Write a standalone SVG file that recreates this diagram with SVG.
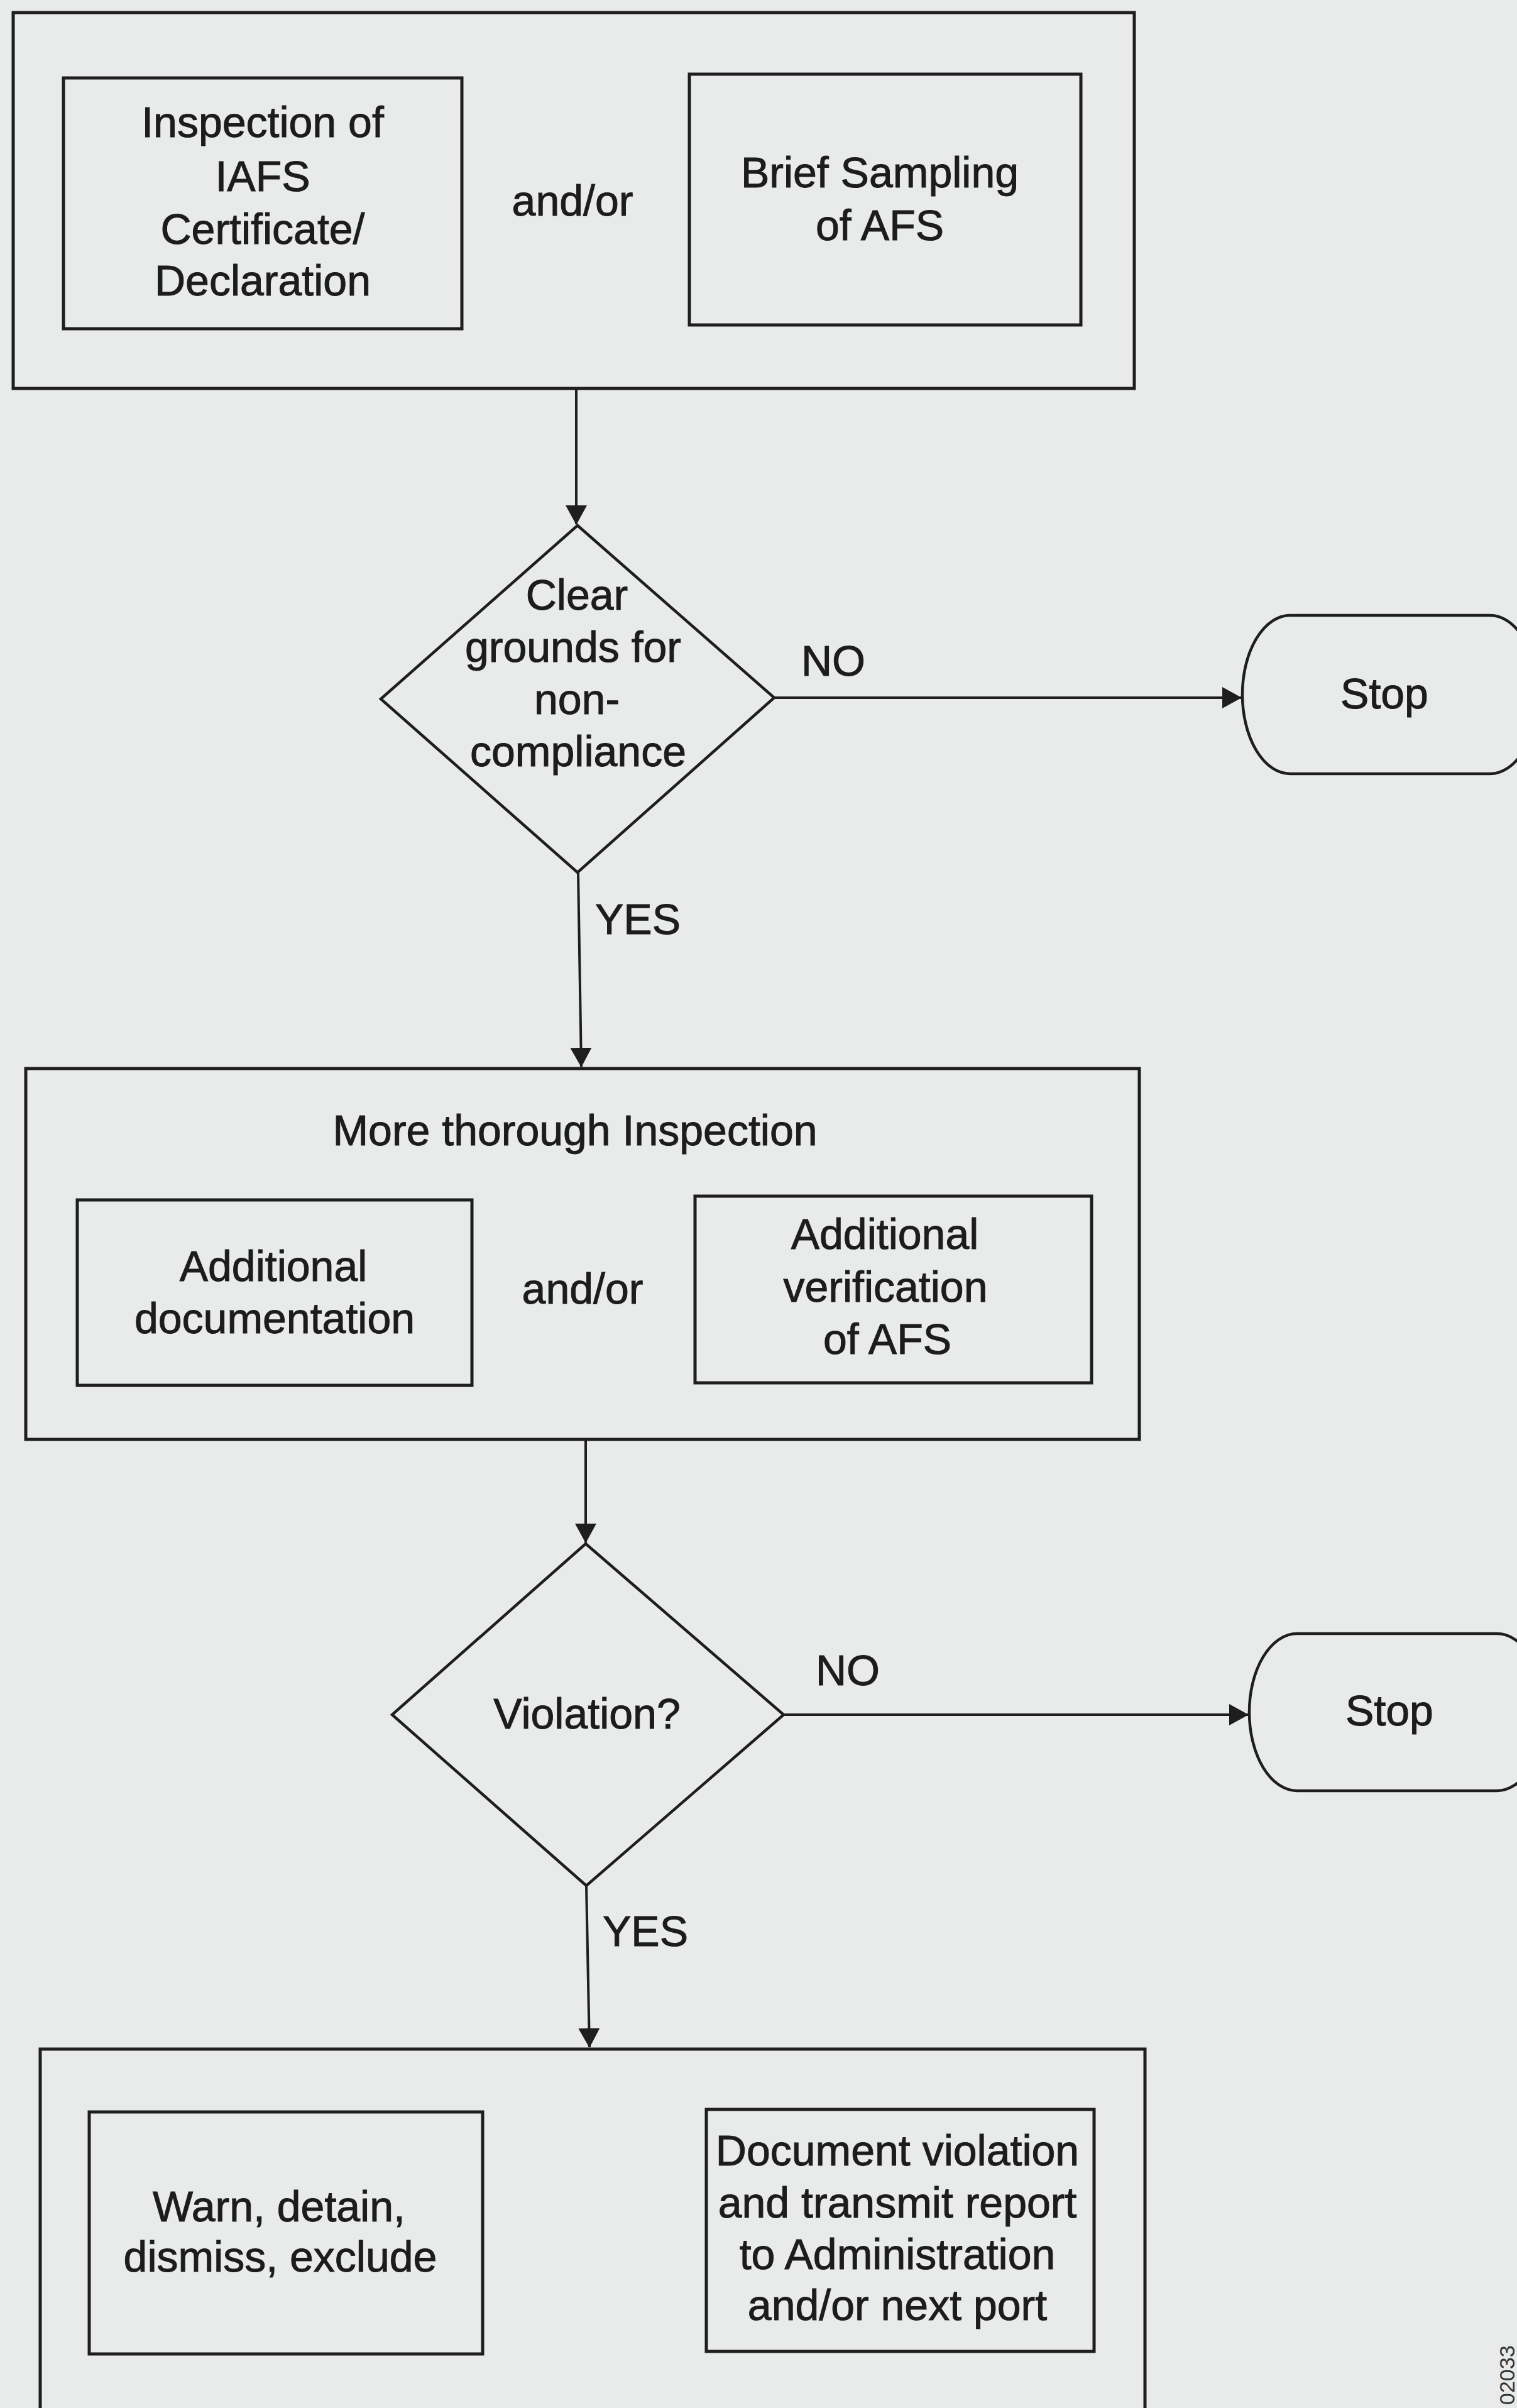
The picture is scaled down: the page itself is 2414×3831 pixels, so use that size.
<svg xmlns="http://www.w3.org/2000/svg" width="2414" height="3831" viewBox="0 0 2414 3831">
<style>
.bg{fill:#e9ebea}
.box{fill:none;stroke:#1e1e1e;stroke-width:5}
.dia{fill:none;stroke:#1e1e1e;stroke-width:4.5}
.term{fill:none;stroke:#1e1e1e;stroke-width:4.5}
.con{fill:none;stroke:#1e1e1e;stroke-width:4}
text{font-family:"Liberation Sans",Arial,sans-serif;font-size:68px;fill:#1c1c1c;stroke:#1c1c1c;stroke-width:1;text-anchor:middle}
.lbl{text-anchor:start}
.tag{font-size:34px;text-anchor:start;fill:#333;stroke:none}
</style>
<defs>
<marker id="arrow" markerUnits="userSpaceOnUse" markerWidth="32" markerHeight="34" refX="30" refY="17" orient="auto">
<path d="M0,0 L31,17 L0,34 Z" fill="#1e1e1e"/>
</marker>
</defs>
<rect class="bg" x="0" y="0" width="2414" height="3831"/>

<g id="connectors">
<line class="con" x1="917" y1="620" x2="917" y2="834" marker-end="url(#arrow)"/>
<line class="con" x1="1232" y1="1110" x2="1975" y2="1110" marker-end="url(#arrow)"/>
<line class="con" x1="920" y1="1388" x2="925" y2="1697" marker-end="url(#arrow)"/>
<line class="con" x1="932" y1="2292" x2="932" y2="2454" marker-end="url(#arrow)"/>
<line class="con" x1="1247" y1="2728" x2="1986" y2="2728" marker-end="url(#arrow)"/>
<line class="con" x1="933" y1="3000" x2="938" y2="3257" marker-end="url(#arrow)"/>
</g>

<g id="initial-check">
<rect class="box" x="21" y="20" width="1784" height="598"/>
</g>
<g id="inspection-certificate">
<rect class="box" x="101" y="124" width="634" height="399"/>
<text x="418" y="218">Inspection of</text>
<text x="418" y="304">IAFS</text>
<text x="418" y="388">Certificate/</text>
<text x="418" y="470">Declaration</text>
</g>
<g id="andor-1">
<text x="911" y="343">and/or</text>
</g>
<g id="brief-sampling">
<rect class="box" x="1097" y="118" width="623" height="399"/>
<text x="1400" y="298">Brief Sampling</text>
<text x="1400" y="382">of AFS</text>
</g>

<g id="clear-grounds">
<polygon class="dia" points="919,836 1232,1110 919,1388 606,1112"/>
<text x="918" y="970">Clear</text>
<text x="912" y="1053">grounds for</text>
<text x="918" y="1136">non-</text>
<text x="920" y="1219">compliance</text>
</g>
<g id="label-no-1"><text class="lbl" x="1275" y="1075">NO</text></g>
<g id="stop-1">
<rect class="term" x="1977" y="979" width="470" height="252" rx="76" ry="126"/>
<text x="2203" y="1127">Stop</text>
</g>
<g id="label-yes-1"><text class="lbl" x="947" y="1486">YES</text></g>

<g id="thorough-inspection">
<rect class="box" x="41" y="1700" width="1772" height="590"/>
<text x="915" y="1822">More thorough Inspection</text>
</g>
<g id="additional-documentation">
<rect class="box" x="123" y="1909" width="628" height="295"/>
<text x="435" y="2038">Additional</text>
<text x="437" y="2121">documentation</text>
</g>
<g id="andor-2">
<text x="927" y="2074">and/or</text>
</g>
<g id="additional-verification">
<rect class="box" x="1106" y="1903" width="631" height="297"/>
<text x="1408" y="1987">Additional</text>
<text x="1409" y="2071">verification</text>
<text x="1412" y="2154">of AFS</text>
</g>

<g id="violation">
<polygon class="dia" points="932,2456 1247,2728 933,3000 624,2728"/>
<text x="934" y="2750">Violation?</text>
</g>
<g id="label-no-2"><text class="lbl" x="1298" y="2681">NO</text></g>
<g id="stop-2">
<rect class="term" x="1988" y="2599" width="470" height="250" rx="76" ry="125"/>
<text x="2211" y="2745">Stop</text>
</g>
<g id="label-yes-2"><text class="lbl" x="959" y="3096">YES</text></g>

<g id="actions">
<rect class="box" x="64" y="3260" width="1758" height="700"/>
</g>
<g id="warn-detain">
<rect class="box" x="142" y="3360" width="626" height="385"/>
<text x="444" y="3534">Warn, detain,</text>
<text x="446" y="3614">dismiss, exclude</text>
</g>
<g id="document-violation">
<rect class="box" x="1124" y="3356" width="617" height="385"/>
<text x="1428" y="3445">Document violation</text>
<text x="1428" y="3528">and transmit report</text>
<text x="1428" y="3610">to Administration</text>
<text x="1428" y="3691">and/or next port</text>
</g>

<g id="figure-number">
<text class="tag" transform="translate(2410,3826) rotate(-90)">02033</text>
</g>
</svg>
